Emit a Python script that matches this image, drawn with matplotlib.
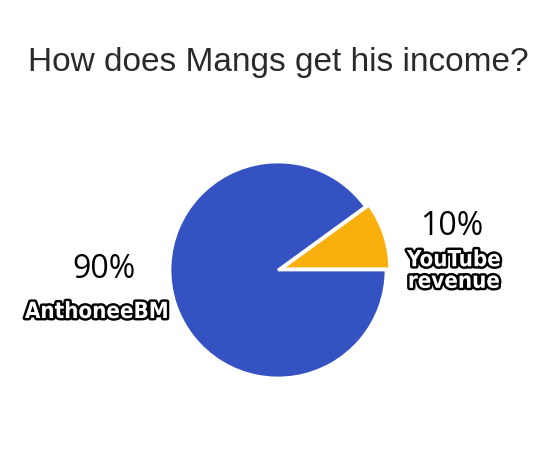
import matplotlib
matplotlib.use('Agg')
import matplotlib.pyplot as plt
import matplotlib.patheffects as pe

labels = ['YouTube\nrevenue', 'AnthoneeBM']
shares = [10, 90]
colors = ['#F7B00C', '#3452C1']
pct_text = ['10%', '90%']

fig = plt.figure(figsize=(5.56, 4.68), dpi=100)
fig.text(0.5, 1 - 63 / 468, 'How does Mangs get his income?', ha='center', va='center',
         fontsize=24, family='Liberation Sans', color='#2a2a2a')

ax = fig.add_axes([(278 - 108) / 556, (198 - 108) / 468, 216 / 556, 216 / 468])
ax.pie(shares, colors=colors, startangle=0, counterclock=True, explode=[0.035, 0],
       wedgeprops=dict(edgecolor='white', linewidth=2))
ax.set_xlim(-1.0, 1.0)
ax.set_ylim(-1.0, 1.0)
ax.set_aspect('equal')

meme = dict(family='DejaVu Sans', stretch='condensed', weight='bold', color='white',
            ha='center', va='center', fontsize=16, linespacing=1.1,
            path_effects=[pe.withStroke(linewidth=3.5, foreground='black')])

fig.text(452 / 556, 1 - 226 / 468, pct_text[0], ha='center', va='center', fontsize=23,
         family='Open Sans', color='black')
fig.text(454 / 556, 1 - 271 / 468, labels[0], **meme)
fig.text(104 / 556, 1 - 270 / 468, pct_text[1], ha='center', va='center', fontsize=23,
         family='Open Sans', color='black')
fig.text(97 / 556, 1 - 312 / 468, labels[1], **meme)

fig.savefig('out.png', dpi=100)
